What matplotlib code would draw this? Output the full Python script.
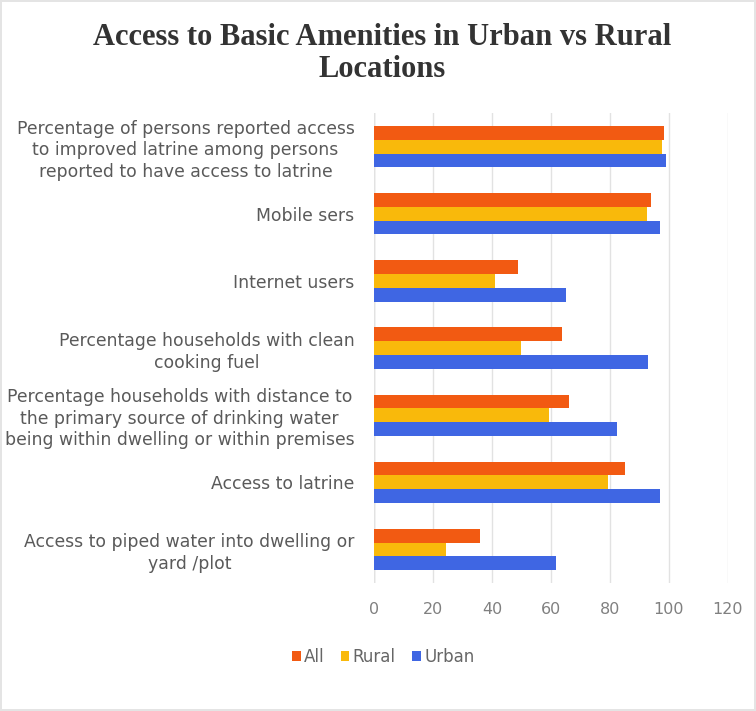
import matplotlib.pyplot as plt
import numpy as np

categories = [
    'Percentage of persons reported access\nto improved latrine among persons\nreported to have access to latrine',
    'Mobile sers',
    'Internet users',
    'Percentage households with clean\ncooking fuel',
    'Percentage households with distance to\nthe primary source of drinking water\nbeing within dwelling or within premises',
    'Access to latrine',
    'Access to piped water into dwelling or\nyard /plot',
]
all_vals = [98.3, 94, 49, 63.6, 66.2, 85, 36]
rural_vals = [97.8, 92.5, 41, 50, 59.2, 79.3, 24.3]
urban_vals = [99, 97, 65, 92.8, 82.3, 97, 61.7]

series = ['All', 'Rural', 'Urban']
colors = ['#F25A12', '#F9B90B', '#3F66E3']

fig = plt.figure(figsize=(7.56, 7.11), dpi=100)
fig.patch.set_edgecolor('#e4e4e4')
fig.patch.set_linewidth(1.5)
ax = fig.add_axes([0.4947, 0.180, 0.468, 0.661])

y = np.arange(len(categories))
h = 0.205
for i, (name, vals) in enumerate(zip(series, [all_vals, rural_vals, urban_vals])):
    ax.barh(y + (i - 1) * h, vals, height=h, color=colors[i], label=name, zorder=3)

ax.set_xlim(0, 120)
ax.set_ylim(len(categories) - 0.5, -0.5)
ax.set_xticks(np.arange(0, 121, 20))
ax.set_yticks(y)
ax.set_yticklabels(categories, fontsize=12.4, color='#5a5a5a', family='DejaVu Sans',
                   multialignment='center', linespacing=1.25)
ax.tick_params(axis='x', labelsize=11.5, colors='#808080', length=0, pad=14)
ax.tick_params(axis='y', length=0, pad=14)
ax.grid(axis='x', color='#e2e2e2', linewidth=1, zorder=0)
for s in ax.spines.values():
    s.set_visible(False)
ax.axvline(0, color='#cccccc', linewidth=1, zorder=1)

fig.text(0.506, 0.925, 'Access to Basic Amenities in Urban vs Rural\nLocations',
         ha='center', va='center', fontsize=22, fontweight='bold',
         family='Liberation Serif', color='#333333', linespacing=1.15)

fig.legend(loc='center', bbox_to_anchor=(0.507, 0.076), ncol=3, frameon=False,
           handlelength=0.5, handleheight=0.5, handletextpad=0.2, columnspacing=1.0,
           prop={'family': 'DejaVu Sans', 'size': 12}, labelcolor='#666666')

fig.savefig('out.png', dpi=100)
